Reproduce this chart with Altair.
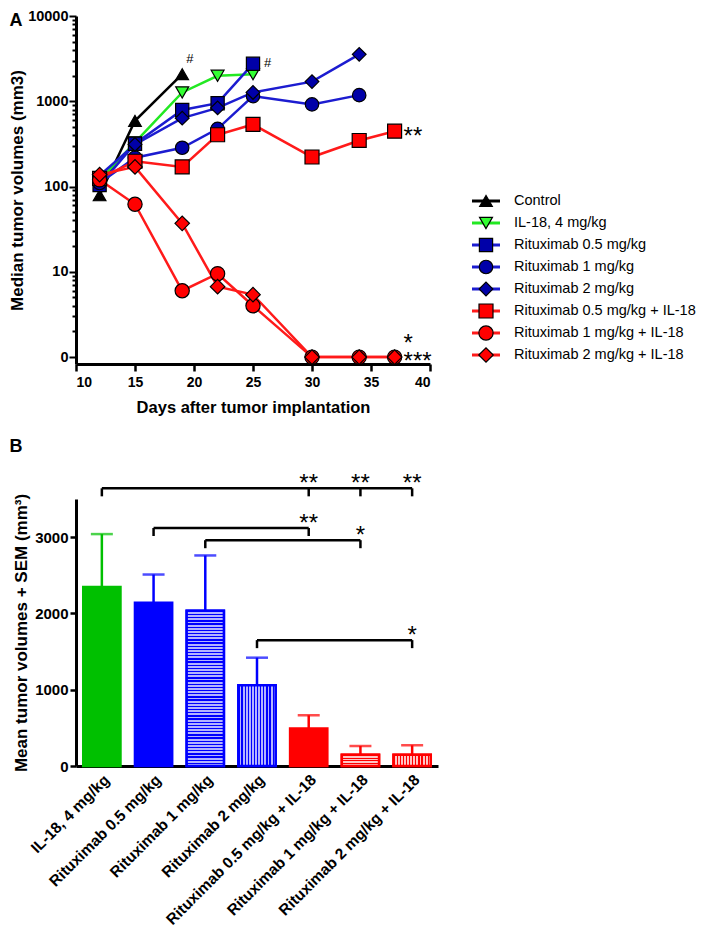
import altair as alt
import pandas as pd

# ---------------- Panel A data ----------------
series_names = [
    "Control",
    "IL-18, 4 mg/kg",
    "Rituximab 0.5 mg/kg",
    "Rituximab 1 mg/kg",
    "Rituximab 2 mg/kg",
    "Rituximab 0.5 mg/kg + IL-18",
    "Rituximab 1 mg/kg + IL-18",
    "Rituximab 2 mg/kg + IL-18",
]
control_days = [12, 15, 19]
control_vals = [79, 590, 2080]
il18_days = [12, 15, 19, 22, 25]
il18_vals = [118, 330, 1270, 1990, 2080]
r05_days = [12, 15, 19, 22, 25]
r05_vals = [104, 318, 790, 950, 2750]
r1_days = [12, 15, 19, 22, 25, 30, 34]
r1_vals = [110, 218, 285, 475, 1150, 920, 1180]
r2_days = [12, 15, 19, 22, 25, 30, 34]
r2_vals = [135, 312, 634, 836, 1270, 1700, 3550]
r05il_days = [12, 15, 19, 22, 25, 30, 34, 37]
r05il_vals = [125, 198, 170, 405, 535, 222, 347, 446]
r1il_days = [12, 15, 19, 22, 25, 30, 34, 37]
r1il_vals = [120, 62, 6.0, 9.5, 4.0, 1, 1, 1]
r2il_days = [12, 15, 19, 22, 25, 30, 34, 37]
r2il_vals = [138, 170, 37, 6.7, 5.4, 1, 1, 1]

series_days = [control_days, il18_days, r05_days, r1_days, r2_days, r05il_days, r1il_days, r2il_days]
series_vals = [control_vals, il18_vals, r05_vals, r1_vals, r2_vals, r05il_vals, r1il_vals, r2il_vals]

line_colors = ["#000000", "#22e822", "#1c1cd0", "#1c1cd0", "#1c1cd0", "#ff1a1a", "#ff1a1a", "#ff1a1a"]
marker_fills = ["#000000", "#33ff33", "#0000a8", "#0000a8", "#0000a8", "#ff0000", "#ff0000", "#ff0000"]
marker_shapes = ["triangle-up", "triangle-down", "square", "circle", "diamond", "square", "circle", "diamond"]
marker_sizes = [160, 210, 130, 105, 260, 130, 105, 260]

y_ticks = []
for dec in [1, 10, 100, 1000]:
    y_ticks += [dec * k for k in range(1, 10)]
y_ticks.append(10000)
x_ticks = [10, 15, 20, 25, 30, 35, 40]

ann_days = [19, 25, 37, 37]
ann_vals = [2080, 2750, 446, 1]
ann_texts = ["#", "#", "**", "*\n***"]

# ---------------- Panel B data ----------------
groups = [
    "IL-18, 4 mg/kg",
    "Rituximab 0.5 mg/kg",
    "Rituximab 1 mg/kg",
    "Rituximab 2 mg/kg",
    "Rituximab 0.5 mg/kg + IL-18",
    "Rituximab 1 mg/kg + IL-18",
    "Rituximab 2 mg/kg + IL-18",
]
means = [2345, 2140, 2035, 1060, 490, 148, 148]
sem_tops = [3040, 2510, 2760, 1420, 665, 262, 272]
bar_colors = ["#00c000", "#0000ff", "#0000ff", "#0000ff", "#ff0000", "#ff0000", "#ff0000"]
bar_patterns = ["solid", "solid", "horizontal", "vertical", "solid", "horizontal", "vertical"]
stripe_light = ["", "", "#b4b4ff", "#b4b4ff", "", "#ffc4c4", "#ffc4c4"]

brk_left = [groups[0], groups[1], groups[2], groups[3]]
brk_right = [groups[6], groups[4], groups[5], groups[6]]
brk_level = [3640, 3120, 2960, 1650]
brk_drop = 105
star_groups = [groups[4], groups[5], groups[6], groups[4], groups[5], groups[6]]
star_levels = [3640, 3640, 3640, 3120, 2960, 1650]
star_texts = ["**", "**", "**", "**", "*", "*"]

FONT = "Liberation Sans"

# ---------------- Panel A ----------------
rows = []
for i, name in enumerate(series_names):
    for d, v in zip(series_days[i], series_vals[i]):
        rows.append({"series": name, "day": d, "value": v})
dfA = pd.DataFrame(rows)

WA, HA = 354, 348
xA = alt.X(
    "day:Q",
    scale=alt.Scale(domain=[10, 40], nice=False, zero=False),
    axis=alt.Axis(values=x_ticks, title="Days after tumor implantation", tickSize=7,
                  tickWidth=2.5, labelPadding=4, titlePadding=10, titleFontSize=16.5),
)
yA = alt.Y(
    "value:Q",
    scale=alt.Scale(type="log", domain=[0.83, 10000], nice=False),
    axis=alt.Axis(
        values=y_ticks,
        labelExpr="datum.value == 1 ? '0' : (indexof([10,100,1000,10000], datum.value) >= 0 ? toString(datum.value) : '')",
        tickSize={"condition": {"test": "indexof([1,10,100,1000,10000], datum.value) >= 0", "value": 7}, "value": 4},
        tickWidth=2,
        labelOverlap=False,
        labelFontSize=14.5,
        labelPadding=1,
        title="Median tumor volumes (mm3)",
        titleFontSize=17,
        titlePadding=1,
    ),
)
colA = alt.Color("series:N", scale=alt.Scale(domain=series_names, range=line_colors), legend=None)
fillA = alt.Fill("series:N", scale=alt.Scale(domain=series_names, range=marker_fills), legend=None)
shapeA = alt.Shape("series:N", scale=alt.Scale(domain=series_names, range=marker_shapes), legend=None)
sizeA = alt.Size("series:N", scale=alt.Scale(domain=series_names, range=marker_sizes), legend=None)

baseA = alt.Chart(dfA)
linesA = baseA.mark_line(strokeWidth=2.5).encode(x=xA, y=yA, color=colA, order="day:Q")
pointsA = baseA.mark_point(filled=True, opacity=1, stroke="black", strokeWidth=1.2).encode(
    x="day:Q", y="value:Q", fill=fillA, shape=shapeA, size=sizeA
)

dfAnn = pd.DataFrame({"day": ann_days, "value": ann_vals, "text": ann_texts})
ann_offsets = [(4, -15, 13, "middle"), (11, -1, 13, "middle"), (9, 13, 24, "alphabetic"),
               (9, -13, 24, "middle")]
ann_layers = []
for i, (dx, dy, fs, bl) in enumerate(ann_offsets):
    ann_layers.append(
        alt.Chart(dfAnn.iloc[[i]]).mark_text(align="left", baseline=bl, dx=dx, dy=dy, fontSize=fs,
                                              font=FONT, color="black", lineBreak="\n", lineHeight=18)
        .encode(x="day:Q", y="value:Q", text="text:N")
    )

labelA = alt.Chart(pd.DataFrame({"t": ["A"]})).mark_text(
    fontSize=18, fontWeight="bold", font=FONT, align="center", baseline="middle", color="black"
).encode(x=alt.value(-60), y=alt.value(5), text="t:N")

panelA = alt.layer(linesA, pointsA, *ann_layers, labelA).properties(width=WA, height=HA)

# legend for panel A
dfL = pd.DataFrame({"series": series_names})
yL = alt.Y("series:N", sort=series_names,
           scale=alt.Scale(type="point", domain=series_names, range=[185, 339], padding=0), axis=None)
baseL = alt.Chart(dfL)
legRule = baseL.mark_rule(strokeWidth=3).encode(x=alt.value(0), x2=alt.value(28), y=yL, color=colA)
legPts = baseL.mark_point(filled=True, opacity=1, stroke="black", strokeWidth=1.2).encode(
    x=alt.value(14), y=yL, fill=fillA, shape=shapeA, size=sizeA
)
legTxt = baseL.mark_text(align="left", baseline="middle", fontSize=14.5, font=FONT, color="black").encode(
    x=alt.value(42), y=yL, text="series:N"
)
legendA = alt.layer(legRule, legPts, legTxt).properties(width=150, height=HA)

topRow = alt.hconcat(panelA, legendA, spacing=38)

# ---------------- Panel B ----------------
WB, HB = 362, 267
dfB = pd.DataFrame({"group": groups, "mean": means, "top": sem_tops})
xB = alt.X("group:N", sort=groups,
           scale=alt.Scale(domain=groups, paddingInner=0.28, paddingOuter=0.14),
           axis=alt.Axis(title=None, labelAngle=-45, ticks=False, labelPadding=6, labelFontSize=15.5,
                         labelLimit=300))
yB = alt.Y("mean:Q", scale=alt.Scale(domain=[0, 3500], nice=False),
           axis=alt.Axis(values=list(range(0, 3501, 500)), format="d", tickSize=6, tickWidth=2.5,
                         labelFontSize=15, labelPadding=2,
                         title="Mean tumor volumes + SEM (mm³)", titleFontSize=17, titlePadding=4))
colB = alt.Color("group:N", scale=alt.Scale(domain=groups, range=bar_colors), legend=None)
fillB = alt.Fill("group:N", scale=alt.Scale(domain=groups, range=bar_colors), legend=None)
strokeB = alt.Stroke("group:N", scale=alt.Scale(domain=groups, range=bar_colors), legend=None)

baseB = alt.Chart(dfB)
barsB = baseB.mark_bar(strokeWidth=2.5).encode(x=xB, y=yB, fill=fillB, stroke=strokeB)


def stripes(dark, light, n, vertical):
    stops = []
    for i in range(n):
        a = i / n
        m = (i + 0.4) / n
        b = (i + 1) / n
        stops += [{"offset": a, "color": dark}, {"offset": m, "color": dark},
                  {"offset": m, "color": light}, {"offset": b, "color": light}]
    g = {"gradient": "linear", "stops": stops}
    if vertical:
        g.update({"x1": 0, "x2": 1, "y1": 0, "y2": 0})
    else:
        g.update({"x1": 0, "x2": 0, "y1": 0, "y2": 1})
    return g


pattern_layers = []
for i, g in enumerate(groups):
    if bar_patterns[i] == "solid":
        continue
    if bar_patterns[i] == "horizontal":
        n = max(2, round(means[i] / 3500 * HB / 3.2))
        grad = stripes(bar_colors[i], stripe_light[i], n, False)
    else:
        grad = stripes(bar_colors[i], stripe_light[i], 12, True)
    pattern_layers.append(
        baseB.transform_filter(alt.datum.group == g)
        .mark_bar(fill=grad, stroke=bar_colors[i], strokeWidth=2.5)
        .encode(x=alt.X("group:N", sort=groups), y="mean:Q")
    )

errB = baseB.mark_rule(strokeWidth=2.5).encode(x=alt.X("group:N", sort=groups), y="mean:Q", y2="top:Q", color=colB)
capB = baseB.mark_tick(thickness=2.5, size=22, orient="horizontal").encode(
    x=alt.X("group:N", sort=groups), y="top:Q", color=colB)

dfBrk = pd.DataFrame({"left": brk_left, "right": brk_right, "level": brk_level})
brkH = alt.Chart(dfBrk).mark_rule(strokeWidth=2.5, color="black").encode(
    x=alt.X("left:N", sort=groups), x2="right:N", y="level:Q")
tick_rows = [{"group": l, "level": lv, "low": lv - brk_drop} for l, lv in zip(brk_left, brk_level)]
tick_rows += [{"group": g, "level": lv, "low": lv - brk_drop} for g, lv in zip(star_groups, star_levels)]
dfTick = pd.DataFrame(tick_rows)
brkV = alt.Chart(dfTick).mark_rule(strokeWidth=2.5, color="black").encode(
    x=alt.X("group:N", sort=groups), y="level:Q", y2="low:Q")
dfStar = pd.DataFrame({"group": star_groups, "level": star_levels, "text": star_texts})
starsB = alt.Chart(dfStar).mark_text(fontSize=24, font=FONT, baseline="alphabetic", dy=3, color="black").encode(
    x=alt.X("group:N", sort=groups), y="level:Q", text="text:N")

labelB = alt.Chart(pd.DataFrame({"t": ["B"]})).mark_text(
    fontSize=18, fontWeight="bold", font=FONT, align="center", baseline="middle", color="black"
).encode(x=alt.value(-60), y=alt.value(-52), text="t:N")

panelB = alt.layer(barsB, *pattern_layers, errB, capB, brkH, brkV, starsB, labelB).properties(width=WB, height=HB)

chart = (
    alt.vconcat(topRow, panelB, spacing=22)
    .resolve_scale(color="independent", fill="independent", stroke="independent",
                   shape="independent", size="independent")
    .properties(padding={"left": 0, "top": 0, "right": 0, "bottom": 0})
    .configure(font=FONT)
    .configure_view(stroke=None)
    .configure_axis(
        domainColor="black", domainWidth=3, tickColor="black", labelColor="black", titleColor="black",
        labelFont=FONT, titleFont=FONT, labelFontWeight="bold", labelFontSize=14,
        titleFontWeight="bold", titleFontSize=16, grid=False,
    )
)

chart.save("out.html", embed_options={"renderer": "svg", "actions": False})
